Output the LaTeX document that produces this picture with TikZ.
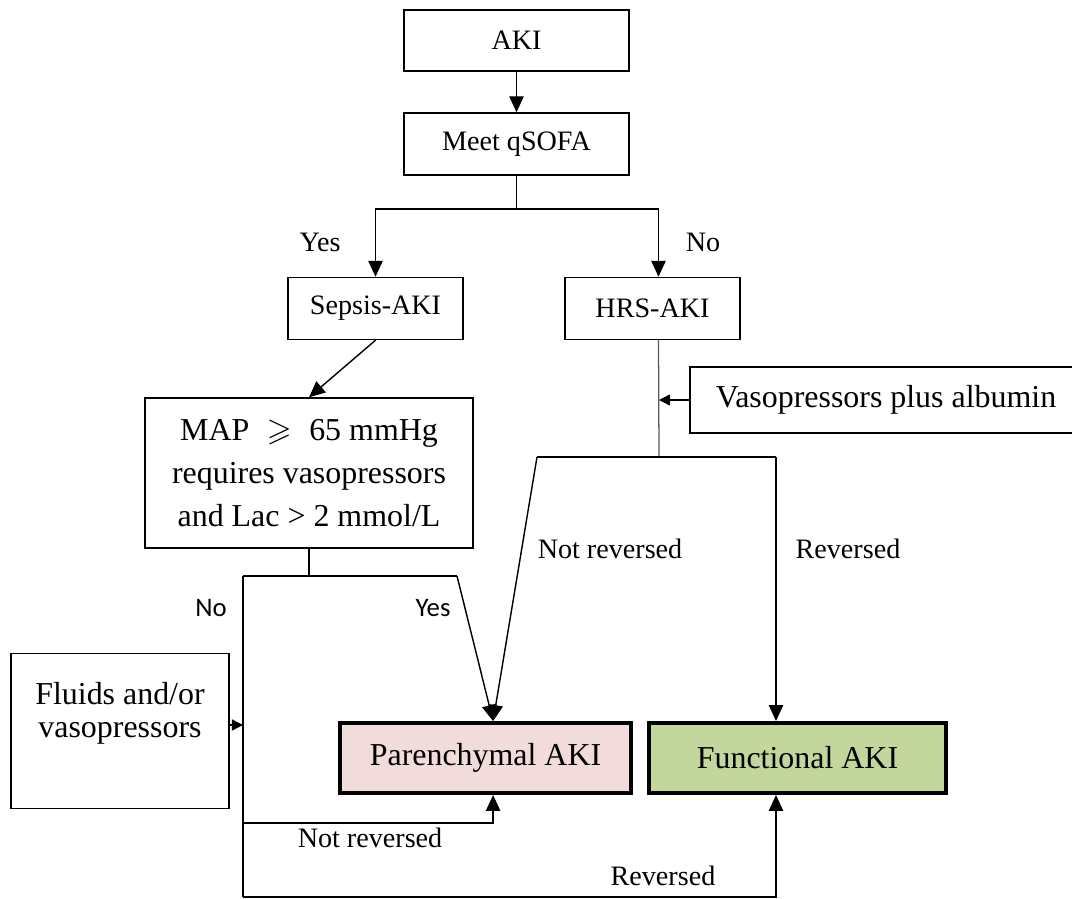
\documentclass[tikz,border=0pt]{standalone}
\usepackage{amsmath,amssymb}
\usepackage{fontspec}
\setmainfont{Liberation Serif}
\newfontfamily\labelsans{Carlito}
\usetikzlibrary{arrows.meta}
\definecolor{parpink}{HTML}{F2DCDB}
\definecolor{funcgreen}{HTML}{C3D69B}

\begin{document}
\begin{tikzpicture}[x=0.025cm, y=-0.025cm, line width=1pt, every node/.style={font=\fontsize{20}{24}\selectfont}, >={Triangle[length=4mm, width=3.6mm]}, box/.style={draw, rectangle, inner sep=0pt, align=center}, big/.style={font=\fontsize{22.7}{27}\selectfont}, result/.style={box, big, line width=2.8pt}, small tip/.style={-{Triangle[length=2.8mm, width=2.8mm]}}, sans/.style={font=\labelsans\fontsize{19}{22}\selectfont}, hrsline/.style={draw=gray!70!black, line width=0.9pt}]
	\useasboundingbox (0,0) rectangle (1072,899);
	\node[box, minimum width=5.625cm, minimum height=1.525cm] (aki) at (516.5,40.5) {AKI};
	\node[box, minimum width=5.625cm, minimum height=1.55cm] (qsofa) at (516.5,144) {Meet qSOFA};
	\node[box, minimum width=4.375cm, minimum height=1.55cm] (sepsis) at (375.5,308.5) {Sepsis-AKI};
	\node[box, minimum width=4.375cm, minimum height=1.55cm] (hrs) at (652.5,308.5) {HRS-AKI};
	\node[box, minimum width=8.2cm, minimum height=3.75cm, font=\fontsize{22.7}{30.5}\selectfont] (map) at (309,473) {MAP\hspace{0.55em}$\geqslant$\hspace{0.55em}65 mmHg\\requires vasopressors\\and Lac > 2 mmol/L};
	\node[box, big, minimum width=9.8cm, minimum height=1.65cm] (vaso) at (886,400) {Vasopressors plus albumin};
	\node[box, minimum width=5.45cm, minimum height=3.875cm, font=\fontsize{22.7}{23.5}\selectfont] (fluids) at (120,731) {\strut Fluids and/or\\vasopressors\\\strut};
	\node[result, fill=parpink, minimum width=7.275cm, minimum height=1.75cm] (paren) at (485.5,758) {Parenchymal AKI};
	\node[result, fill=funcgreen, minimum width=7.425cm, minimum height=1.75cm] (func) at (797.5,758) {Functional AKI};
	\coordinate (split) at (516.5,209);
	\coordinate (hrsjoin) at (659,457);
	\coordinate (hrsleft) at (537,457);
	\coordinate (hrsright) at (776,457);
	\coordinate (mapjoin) at (309,576);
	\coordinate (noleft) at (243,576);
	\coordinate (yesright) at (457,576);
	\coordinate (nrleft) at (243,823);
	\coordinate (bottomleft) at (243,897);
	\draw[->] (aki) -- (qsofa);
	\draw[->] (qsofa.south) -- (split) -| (sepsis.north);
	\draw[->] (split) -| ([xshift=1.5mm]hrs.north);
	\node (yes1) at (320,242) {Yes};
	\node (no1) at (703,242) {No};
	\draw[->] (sepsis.south) -- (map.north);
	\draw[hrsline] ([xshift=1.5mm]hrs.south) -- (hrsjoin);
	\draw[small tip] (vaso.west) -- (vaso.west -| hrsjoin);
	\draw (hrsleft) -- (hrsright);
	\draw[->] (hrsleft) -- ([xshift=1.9mm]paren.north);
	\node (nr1) at (610,549) {Not reversed};
	\draw[->] (hrsright) -- (hrsright |- func.north);
	\node (rv1) at (848,549) {Reversed};
	\draw (map.south) -- (mapjoin);
	\draw (noleft) -- (yesright);
	\draw[->] (yesright) -- ([xshift=1.9mm]paren.north);
	\node[sans] (no2) at (211,608) {No};
	\node[sans] (yes2) at (433,608) {Yes};
	\draw (noleft) -- (bottomleft);
	\draw[small tip] (fluids.east |- 0,725) -- (noleft |- 0,725);
	\draw[->] (nrleft) -| ([xshift=1.9mm]paren.south);
	\node (nr2) at (370,838) {Not reversed};
	\draw[->] (bottomleft) -| (hrsright |- func.south);
	\node (rv2) at (663,876) {Reversed};
\end{tikzpicture}
\end{document}
